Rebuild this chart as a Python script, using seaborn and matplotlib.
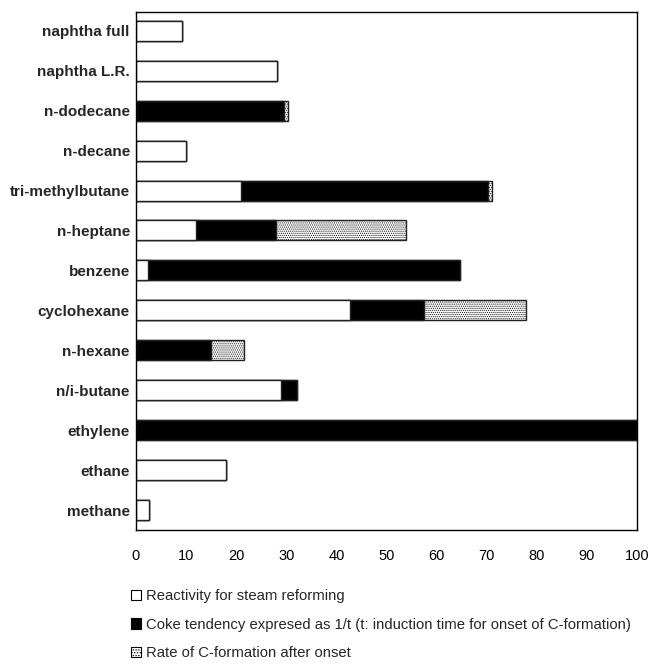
import matplotlib
matplotlib.use("Agg")
import matplotlib.pyplot as plt
from matplotlib.patches import Patch
import seaborn as sns
import pandas as pd
import numpy as np

categories = ["naphtha full", "naphtha L.R.", "n-dodecane", "n-decane", "tri-methylbutane",
              "n-heptane", "benzene", "cyclohexane", "n-hexane", "n/i-butane",
              "ethylene", "ethane", "methane"]
reactivity = [9.2, 28.1, 0.0, 10.0, 21.0, 11.9, 2.4, 42.8, 0.0, 28.9, 0.0, 18.0, 2.5]
coke_tendency = [0.0, 0.0, 29.6, 0.0, 49.2, 16.1, 62.3, 14.7, 14.9, 3.2, 100.0, 0.0, 0.0]
c_rate = [0.0, 0.0, 0.8, 0.0, 0.8, 25.8, 0.0, 20.4, 6.6, 0.0, 0.0, 0.0, 0.0]
legend_labels = ["Reactivity for steam reforming",
                 "Coke tendency expresed as 1/t (t: induction time for onset of C-formation)",
                 "Rate of C-formation after onset"]
xticks = list(range(0, 101, 10))

sns.set_theme(style="white")
plt.rcParams['font.family'] = ['Liberation Sans', 'DejaVu Sans']
plt.rcParams['hatch.color'] = '#666666'
plt.rcParams['hatch.linewidth'] = 0.6

df = pd.DataFrame({"cat": categories, "r": reactivity, "c": coke_tendency, "d": c_rate})
df["rc"] = df["r"] + df["c"]
df["rcd"] = df["rc"] + df["d"]

fig = plt.figure(figsize=(6.52, 6.65), dpi=100)
ax = fig.add_axes([136/652, 1-530/665, (637-136)/652, (530-12)/665])

edge = dict(edgecolor="#222222", linewidth=1.0)
sns.barplot(data=df, y="cat", x="rcd", orient="h", color="white", width=0.5,
            hatch="........", ax=ax, saturation=1, **edge)
sns.barplot(data=df, y="cat", x="rc", orient="h", color="black", width=0.5,
            ax=ax, saturation=1, **edge)
sns.barplot(data=df, y="cat", x="r", orient="h", color="white", width=0.5,
            ax=ax, saturation=1, **edge)

ax.set_xlim(0, 100)
ax.set_ylim(12.5, -0.47)
ax.set_xticks(xticks)
ax.set_xticklabels([str(t) for t in xticks], fontsize=10.5)
ax.set_xlabel("")
ax.set_ylabel("")
for lbl in ax.get_yticklabels():
    lbl.set_fontweight("bold")
    lbl.set_fontsize(11)
ax.tick_params(axis="x", direction="in", length=3, pad=14, colors="black", width=0.8)
ax.tick_params(axis="y", length=0, pad=4.5)
ax.tick_params(axis="x", labelcolor="black")
for s in ax.spines.values():
    s.set_visible(True)
    s.set_color("black")
    s.set_linewidth(1.0)

handles = [Patch(facecolor="white", edgecolor="black", linewidth=0.8),
           Patch(facecolor="black", edgecolor="black", linewidth=0.8),
           Patch(facecolor="white", edgecolor="black", hatch="......", linewidth=0.8)]
fig.legend(handles, legend_labels, loc="upper left", bbox_to_anchor=(131/652, 1-589/665),
           frameon=False, fontsize=10.7, handlelength=0.7, handleheight=0.7,
           handletextpad=0.3, labelspacing=0.98, borderpad=0, borderaxespad=0)

fig.savefig("out.png", dpi=100)
